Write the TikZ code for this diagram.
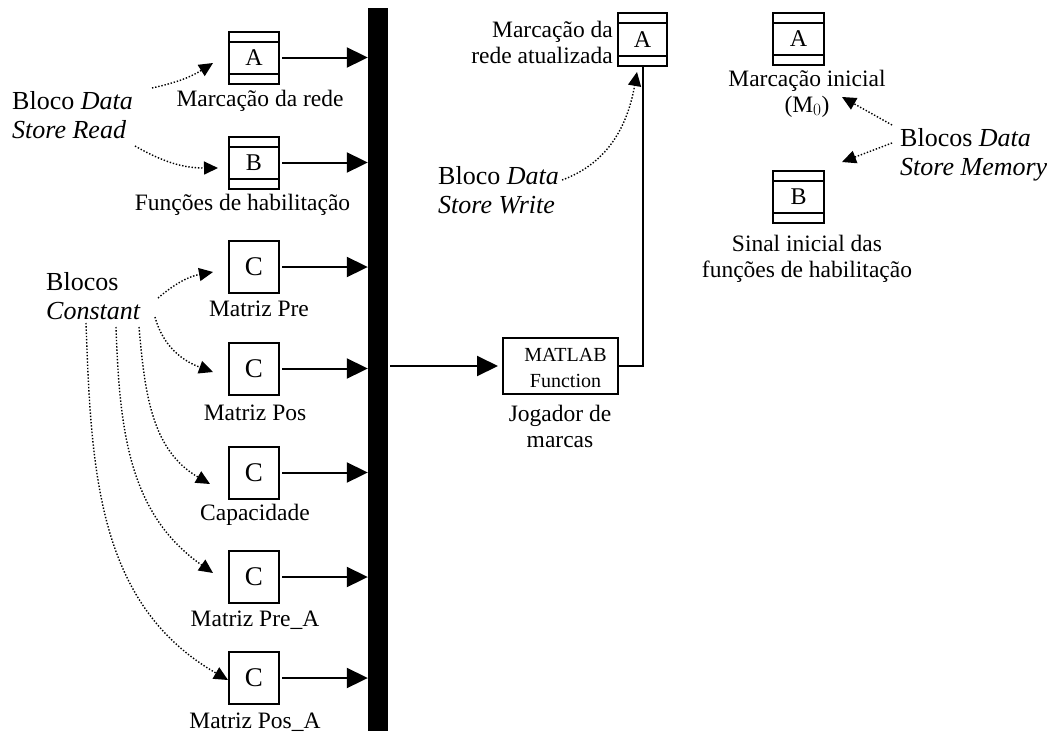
\documentclass[tikz,border=0pt]{standalone}
\usepackage{fontspec}
\setmainfont{Liberation Serif}
\usetikzlibrary{arrows.meta}
\begin{document}
\begin{tikzpicture}[x=1pt,y=-1pt,
  blk/.style={draw, line width=2pt, minimum width=50pt, minimum height=52pt,
    inner sep=0pt, font=\fontsize{24}{26}\selectfont},
  cblk/.style={blk, font=\fontsize{27}{29}\selectfont},
  lbl/.style={font=\fontsize{23.5}{25.5}\selectfont, inner sep=0pt, align=center},
  note/.style={font=\fontsize{26}{28.5}\selectfont, inner sep=0pt, align=left, anchor=base west},
  sig/.style={line width=2pt, -{Triangle[length=21pt,width=20pt]}},
  hint/.style={line width=1.4pt, dash pattern=on 1.4pt off 1.8pt,
    -{Triangle[length=14pt,width=13pt]}}
]
\useasboundingbox (0,0) rectangle (1057,731);

% data store block: rectangle with two inner rules
\newcommand{\dsrules}[1]{%
  \draw[line width=2pt] ([yshift=-11pt]#1.north west) -- ([yshift=-11pt]#1.north east);
  \draw[line width=2pt] ([yshift=11pt]#1.south west) -- ([yshift=11pt]#1.south east);}

% bus bar
\node[fill=black, minimum width=20pt, minimum height=723pt, inner sep=0pt] (bus) at (378,369.5) {};

% Data Store Read blocks
\node[blk] (dA) at (254,57.5) {A};
\node[blk] (dB) at (254,162.5) {B};
\dsrules{dA}\dsrules{dB}
\node[lbl, anchor=base] (lA) at (260,106) {Marcação da rede};
\node[lbl, anchor=base] (lB) at (242.5,210) {Funções de habilitação};

% Constant blocks
\node[cblk] (cPre) at (254,267) {C};
\node[cblk] (cPos) at (254,368.5) {C};
\node[cblk] (cCap) at (254,472.5) {C};
\node[cblk] (cPreA) at (254,577) {C};
\node[cblk] (cPosA) at (254,678) {C};
\node[lbl, anchor=base] (lPre) at (259,316) {Matriz Pre};
\node[lbl, anchor=base] (lPos) at (255,420) {Matriz Pos};
\node[lbl, anchor=base] (lCap) at (255,520) {Capacidade};
\node[lbl, anchor=base] (lPreA) at (255,626) {Matriz Pre\_A};
\node[lbl, anchor=base] (lPosA) at (255,728) {Matriz Pos\_A};

% signals into the bus
\foreach \b in {dA,dB,cPre,cPos,cCap,cPreA,cPosA}
  \draw[sig, shorten <=2pt] (\b.east) -- (\b.east -| bus.west);

% MATLAB Function block
\node[draw, line width=2pt, minimum width=115pt, minimum height=56pt, inner sep=0pt] (mf) at (560.5,366) {};
\node[font=\fontsize{20}{26}\selectfont, inner sep=0pt, align=center, anchor=base] (mft) at (565.5,387) {MATLAB\\Function};
\node[lbl, anchor=base] (lmf) at (560,447) {Jogador de\\marcas};
\draw[sig, shorten >=4pt, shorten <=2pt] (bus.east |- mf.west) -- (mf.west);

% Data Store Write block
\node[blk, minimum width=49pt, minimum height=53pt] (dW) at (642.5,39.5) {A};
\dsrules{dW}
\node[lbl, align=right, anchor=base east] (lW) at (613,63) {Marcação da\\rede atualizada};
\draw[line width=2pt] (mf.east) -| (dW.south);

% Data Store Memory blocks
\node[blk, minimum width=51pt] (mA) at (798.5,39) {A};
\node[blk, minimum width=51pt] (mB) at (798.5,196.5) {B};
\dsrules{mA}\dsrules{mB}
\node[lbl, anchor=base] (lmA) at (807,112) {Marcação inicial\\(M$_0$)};
\node[lbl, anchor=base] (lmB) at (807,277) {Sinal inicial das\\funções de habilitação};

% annotations
\node[note] (nR) at (12,138) {Bloco \textit{Data}\\\textit{Store Read}};
\node[note] (nC) at (46,319) {Blocos\\\textit{Constant}};
\node[note] (nW) at (438,213) {Bloco \textit{Data}\\\textit{Store Write}};
\node[note] (nM) at (900,175) {Blocos \textit{Data}\\\textit{Store Memory}};

% pointer ends
\coordinate (r1) at (152,88);   \coordinate (r1t) at (213,63);
\coordinate (r2) at (135,146);  \coordinate (r2t) at (218,168);
\coordinate (k1) at (158,298);  \coordinate (k1t) at (213,272);
\coordinate (k2) at (155,317);  \coordinate (k2t) at (213,372);
\coordinate (k3) at (139,327);  \coordinate (k3t) at (210,484);
\coordinate (k4) at (116,327);  \coordinate (k4t) at (213,573);
\coordinate (k5) at (86,323);   \coordinate (k5t) at (228,680);
\coordinate (w1) at (562,180);  \coordinate (w1t) at (637,72);
\coordinate (m1) at (892,125);  \coordinate (m1t) at (842,97);
\coordinate (m2) at (892,143);  \coordinate (m2t) at (842,162);

\draw[hint] (r1) to[bend right=10] (r1t);
\draw[hint] (r2) to[bend right=15] (r2t);
\draw[hint] (k1) to[bend left=15] (k1t);
\draw[hint] (k2) to[out=-75, in=160] (k2t);
\draw[hint] (k3) to[out=-85, in=150] (k3t);
\draw[hint] (k4) to[out=-88, in=145] (k4t);
\draw[hint] (k5) to[out=-88, in=150] (k5t);
\draw[hint] (w1) to[out=20, in=-100] (w1t);
\draw[hint] (m1) -- (m1t);
\draw[hint] (m2) -- (m2t);
\end{tikzpicture}
\end{document}
